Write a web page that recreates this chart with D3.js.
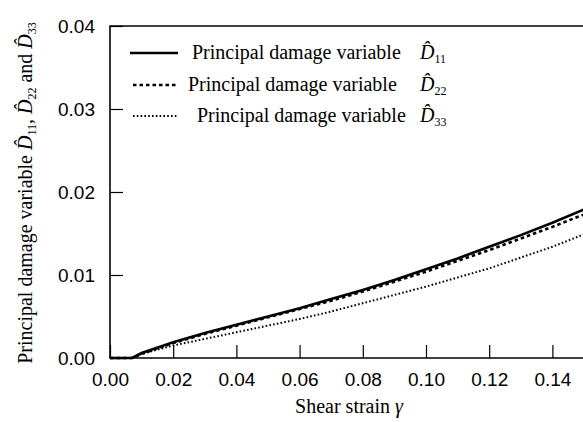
<!DOCTYPE html>
<html>
<head>
<meta charset="utf-8">
<script src="https://cdn.jsdelivr.net/npm/d3@7"></script>
<style>
  html, body { margin: 0; padding: 0; background: #fff; }
  svg { display: block; }
</style>
</head>
<body>
<svg id="chart" width="583" height="422"></svg>
<script>
// Shear strain values (x) and the three principal damage variables
const strain = [0, 0.004, 0.007, 0.01, 0.02, 0.03, 0.04, 0.05, 0.06, 0.07, 0.08, 0.09, 0.10, 0.11, 0.12, 0.13, 0.14, 0.15];
const d11 = [0, 0, 0, 0.0006, 0.0019, 0.0030, 0.0040, 0.0050, 0.0060, 0.0071, 0.0082, 0.0094, 0.0107, 0.0120, 0.0134, 0.0148, 0.0163, 0.0179];
const d22 = [0, 0, 0, 0.0005, 0.0018, 0.0029, 0.0039, 0.0049, 0.0059, 0.0069, 0.0080, 0.0092, 0.0104, 0.0117, 0.0130, 0.0144, 0.0158, 0.0173];
const d33 = [0, 0, 0, 0.0005, 0.0015, 0.0023, 0.0031, 0.0039, 0.0047, 0.0056, 0.0066, 0.0076, 0.0086, 0.0097, 0.0108, 0.0121, 0.0134, 0.0149];
const xTicks = [0, 0.02, 0.04, 0.06, 0.08, 0.10, 0.12, 0.14];
const yTicks = [0, 0.01, 0.02, 0.03, 0.04];
const seriesNames = ["11", "22", "33"];

const svg = d3.select("#chart");
const mLeft = 110, mTop = 26, mBottom = 358, mRight = 584;

const x = d3.scaleLinear().domain([0, 0.15]).range([mLeft, mRight]);
const y = d3.scaleLinear().domain([0, 0.04]).range([mBottom, mTop]);

const axisFont = "'Liberation Sans', Arial, sans-serif";
const serif = "'Liberation Serif', 'Times New Roman', serif";

// Frame (left, top, bottom)
svg.append("path")
  .attr("d", `M${mRight},${mTop}H${mLeft}V${mBottom}H${mRight}`)
  .attr("fill", "none").attr("stroke", "#000").attr("stroke-width", 1.6);

// Axes with inward ticks
const xAxis = d3.axisBottom(x).tickValues(xTicks).tickSize(-13).tickPadding(15)
  .tickFormat(d3.format(".2f"));
const gx = svg.append("g").attr("transform", `translate(0,${mBottom})`).call(xAxis);
const yAxis = d3.axisLeft(y).tickValues(yTicks).tickSize(-13).tickPadding(15)
  .tickFormat(d3.format(".2f"));
const gy = svg.append("g").attr("transform", `translate(${mLeft},0)`).call(yAxis);
[gx, gy].forEach(g => {
  g.select(".domain").remove();
  g.selectAll(".tick line").attr("stroke", "#000").attr("stroke-width", 1.2);
  g.selectAll(".tick text").attr("fill", "#000")
    .style("font-family", axisFont).style("font-size", "19px");
});

// Curves
const styles = [
  { data: d11, width: 2.6, dash: null },
  { data: d22, width: 2.6, dash: "3.5,3" },
  { data: d33, width: 2.0, dash: "1.6,2.2" }
];
const line = d3.line().x(d => x(d[0])).y(d => y(d[1]));
styles.forEach(s => {
  svg.append("path")
    .datum(strain.map((v, i) => [v, s.data[i]]))
    .attr("d", line)
    .attr("fill", "none").attr("stroke", "#000")
    .attr("stroke-width", s.width)
    .attr("stroke-dasharray", s.dash);
});

// Legend
const legendRows = [53, 85, 116];
const textX = [192, 188, 197];
styles.forEach((s, i) => {
  const ly = legendRows[i];
  svg.append("line")
    .attr("x1", i === 0 ? 130 : 133).attr("x2", 178)
    .attr("y1", ly).attr("y2", ly)
    .attr("stroke", "#000").attr("stroke-width", s.width)
    .attr("stroke-dasharray", s.dash);
  const t = svg.append("text").attr("x", textX[i]).attr("y", ly + 6)
    .style("font-family", serif).style("font-size", "20px");
  t.append("tspan").text("Principal damage variable");
  t.append("tspan").attr("x", 420).style("font-style", "italic").text("D\u0302");
  t.append("tspan").attr("dy", 4).style("font-size", "12px").text(seriesNames[i]);
});

// Axis titles
const xt = svg.append("text").attr("x", 349).attr("y", 413)
  .attr("text-anchor", "middle")
  .style("font-family", serif).style("font-size", "20px");
xt.append("tspan").text("Shear strain ");
xt.append("tspan").style("font-style", "italic").text("\u03b3");

const yt = svg.append("text")
  .attr("transform", "translate(32,193) rotate(-90)")
  .attr("text-anchor", "middle")
  .style("font-family", serif).style("font-size", "20px");
yt.append("tspan").text("Principal damage variable  ");
seriesNames.forEach((n, i) => {
  yt.append("tspan").style("font-style", "italic").text("D\u0302");
  yt.append("tspan").attr("dy", 4).style("font-size", "12px").text(n);
  yt.append("tspan").attr("dy", -4).text(i === 0 ? ", " : i === 1 ? " and " : "");
});
</script>
</body>
</html>
